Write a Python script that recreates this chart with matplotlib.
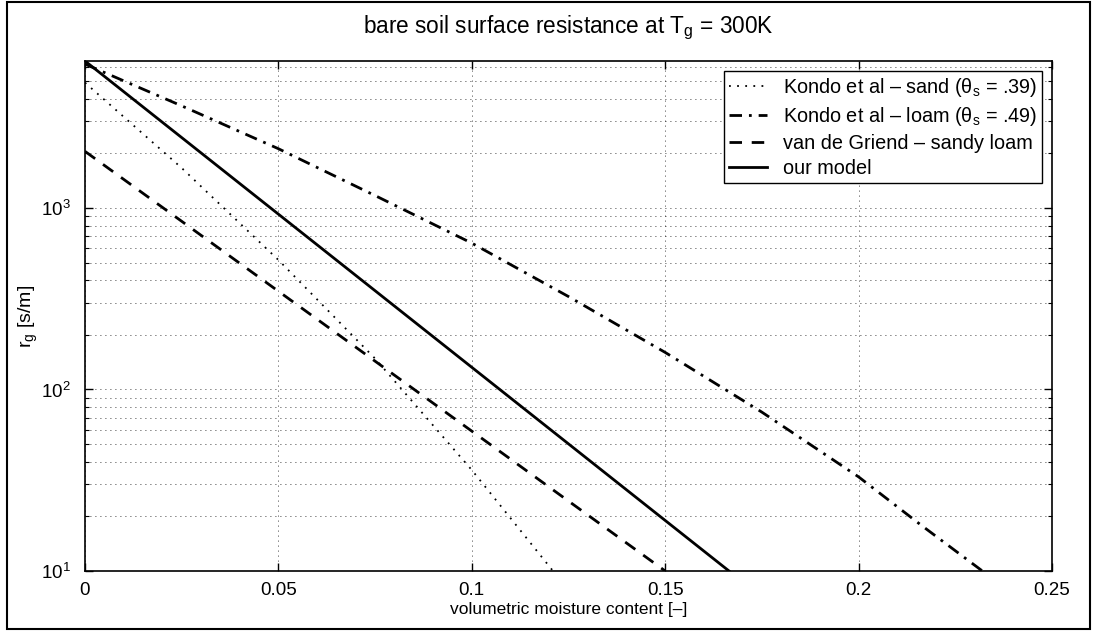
import matplotlib
matplotlib.use('Agg')
import matplotlib.pyplot as plt
from matplotlib.patches import Rectangle
from matplotlib.ticker import LogLocator, NullFormatter

plt.rcParams['font.family'] = ['Liberation Sans', 'DejaVu Sans']
plt.rcParams['mathtext.fontset'] = 'custom'
plt.rcParams['mathtext.rm'] = 'Liberation Sans'
plt.rcParams['mathtext.it'] = 'Liberation Sans:italic'
plt.rcParams['mathtext.bf'] = 'Liberation Sans:bold'

# curves (volumetric moisture content, r_g in s/m)
theta_sand = [0.0, 0.025, 0.05, 0.075, 0.1, 0.121]
rg_sand = [4900, 1660, 517, 148, 36, 10]

theta_loam = [0.0, 0.025, 0.05, 0.075, 0.1, 0.125, 0.15, 0.175, 0.2, 0.216, 0.232]
rg_loam = [6200, 3650, 2120, 1170, 640, 325, 160, 75, 33, 18, 10]

theta_vdg = [0.0, 0.15]
rg_vdg = [2050, 10]

theta_model = [0.0, 0.1665]
rg_model = [6450, 10]

xticks = [0, 0.05, 0.1, 0.15, 0.2, 0.25]
xticklabels = ['0', '0.05', '0.1', '0.15', '0.2', '0.25']

labels = ['Kondo et al \u2013 sand (\u03b8$_\\mathrm{s}$ = .39)',
          'Kondo et al \u2013 loam (\u03b8$_\\mathrm{s}$ = .49)',
          'van de Griend \u2013 sandy loam',
          'our model']

fig = plt.figure(figsize=(10.99, 6.35), dpi=100)
ax = fig.add_axes([85/1099, 1 - 571/635, (1052 - 85)/1099, (571 - 61)/635])

ax.semilogy(theta_sand, rg_sand, color='black', lw=1.3, linestyle=(0, (1, 3.5)), label=labels[0])
ax.semilogy(theta_loam, rg_loam, color='black', lw=2.0, linestyle=(0, (4.5, 2.5, 1, 2.5)), label=labels[1])
ax.semilogy(theta_vdg, rg_vdg, color='black', lw=2.0, linestyle=(0, (4.5, 3.5)), label=labels[2])
ax.semilogy(theta_model, rg_model, color='black', lw=2.0, linestyle='-', label=labels[3])

ax.set_xlim(0, 0.25)
ax.set_ylim(10, 6450)
ax.set_xticks(xticks)
ax.set_xticklabels(xticklabels)
ax.yaxis.set_major_locator(LogLocator(base=10, numticks=10))
ax.yaxis.set_minor_locator(LogLocator(base=10, subs=range(2, 10), numticks=20))
ax.yaxis.set_minor_formatter(NullFormatter())

ax.tick_params(which='both', direction='in', top=True, right=True, labelsize=13.5)
ax.tick_params(which='major', length=6, width=1)
ax.tick_params(which='minor', length=3, width=0.8)
ax.tick_params(axis='x', pad=8)
ax.tick_params(axis='y', pad=10)

ax.grid(True, which='major', color='black', linestyle=(0, (1, 5)), lw=0.6)
ax.grid(True, which='minor', axis='y', color='black', linestyle=(0, (1, 5)), lw=0.6)
for s in ax.spines.values():
    s.set_linewidth(1.2)

ax.set_title('bare soil surface resistance at T$_\\mathrm{g}$ = 300K', fontsize=16.3, pad=20)
ax.set_xlabel('volumetric moisture content [\u2013]', fontsize=12.5, labelpad=2)
ax.set_ylabel('r$_\\mathrm{g}$ [s/m]', fontsize=14)
ax.yaxis.set_label_coords(-0.047, 0.5)

leg = ax.legend(loc='upper right', fontsize=14.3, frameon=True, fancybox=False,
                edgecolor='black', framealpha=1, handlelength=1.9, handletextpad=0.8,
                borderaxespad=0.5, labelspacing=0.3, borderpad=0.25)
leg.get_frame().set_linewidth(1.0)

fig.add_artist(Rectangle((7/1099, 1 - 629/635), 1083/1099, 627/635,
                         transform=fig.transFigure, fill=False,
                         edgecolor='black', lw=1.5))

fig.savefig('out.png', dpi=100, facecolor='white')
